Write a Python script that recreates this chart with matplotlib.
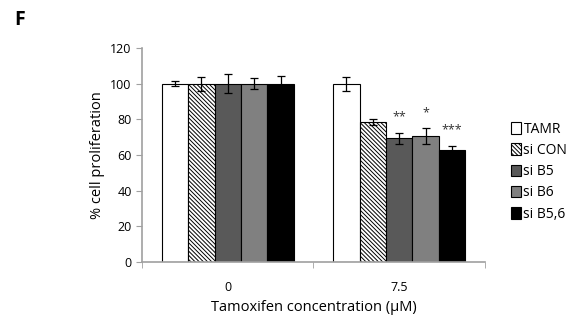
import numpy as np
import matplotlib.pyplot as plt

concs = ["0", "7.5"]
groups = ["TAMR", "si CON", "si B5", "si B6", "si B5,6"]
means = [[100, 100, 100, 100, 100],
         [100, 78.5, 69.3, 70.6, 62.6]]
errs = [[1.5, 3.9, 5.2, 3.0, 4.6],
        [4.0, 1.5, 3.0, 4.3, 2.5]]
stars = ["", "", "**", "*", "***"]

colors = ["white", "white", "#595959", "#808080", "black"]
hatches = [None, "\\" * 8, None, None, None]

plt.rcParams['font.family'] = ['Open Sans', 'DejaVu Sans']
plt.rcParams['hatch.linewidth'] = 0.7

fig = plt.figure(figsize=(5.71, 3.27), dpi=100)
ax = fig.add_axes([0.249, 0.199, 0.600, 0.654])

x = np.arange(len(concs))
w = 0.154
vals = np.array(means)
ee = np.array(errs)
for i, g in enumerate(groups):
    pos = x + (i - 2) * w
    ax.bar(pos, vals[:, i], w, color=colors[i], edgecolor="black", linewidth=0.8,
           hatch=hatches[i], label=g)
    ax.errorbar(pos, vals[:, i], yerr=ee[:, i], fmt="none", ecolor="black",
                elinewidth=0.9, capsize=3, capthick=0.9)
    if stars[i]:
        top = vals[1, i] + ee[1, i]
        ax.text(pos[1], top + 9, stars[i], ha="center", va="center", fontsize=9, color="#333333")

ax.set_xlim(-0.5, 1.5)
ax.set_ylim(0, 120)
ax.set_yticks(range(0, 121, 20))
ax.set_xticks(x)
ax.set_xticklabels(concs)
ax.set_xticks([-0.5, 0.5, 1.5], minor=True)
ax.tick_params(axis="x", which="major", length=0, pad=14, labelsize=9)
ax.tick_params(axis="x", which="minor", length=4, color="#a0a0a0")
ax.tick_params(axis="y", length=4, color="#a0a0a0", labelsize=9)
for s in ["top", "right"]:
    ax.spines[s].set_visible(False)
for s in ["left", "bottom"]:
    ax.spines[s].set_color("#a0a0a0")
    ax.spines[s].set_linewidth(1.2)

ax.set_ylabel("% cell proliferation", fontsize=10.5)
ax.set_xlabel("Tamoxifen concentration (\u03bcM)", fontsize=10.5, labelpad=4)

fig.legend(loc="upper left", bbox_to_anchor=(0.885, 0.645), frameon=False,
           fontsize=10, handlelength=0.7, handleheight=0.9, handletextpad=0.2,
           labelspacing=0.45, borderaxespad=0)

fig.text(0.025, 0.97, "F", fontsize=14, fontweight="bold", va="top")

fig.savefig("out.png", dpi=100)
